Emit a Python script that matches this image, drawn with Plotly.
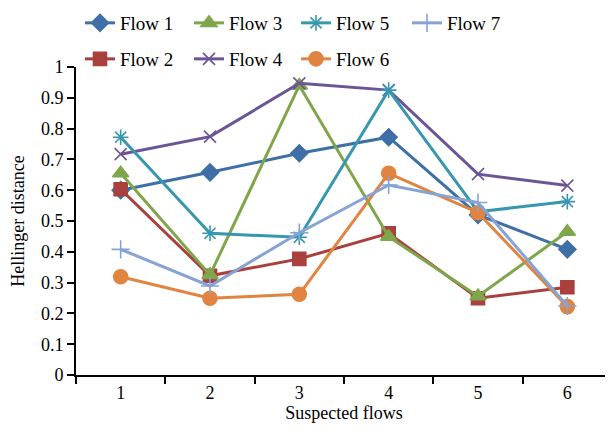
import plotly.graph_objects as go

categories = ["1", "2", "3", "4", "5", "6"]
flow1 = [0.60, 0.658, 0.72, 0.772, 0.52, 0.408]
flow2 = [0.603, 0.322, 0.377, 0.46, 0.249, 0.285]
flow3 = [0.655, 0.325, 0.94, 0.449, 0.256, 0.465]
flow4 = [0.717, 0.774, 0.947, 0.925, 0.652, 0.615]
flow5 = [0.772, 0.46, 0.447, 0.925, 0.53, 0.563]
flow6 = [0.319, 0.249, 0.262, 0.655, 0.527, 0.222]
flow7 = [0.408, 0.289, 0.462, 0.617, 0.56, 0.224]
yticks = [0, 0.1, 0.2, 0.3, 0.4, 0.5, 0.6, 0.7, 0.8, 0.9, 1]
ytick_labels = ["0", "0.1", "0.2", "0.3", "0.4", "0.5", "0.6", "0.7", "0.8", "0.9", "1"]

FONT = "Liberation Serif"
W, H = 605, 422
# (name, values, colour, symbol, size, legend column x (px), legend row y (px))
series = [
    ("Flow 1", flow1, "#3E6FA6", "diamond", 13, 72, 15),
    ("Flow 2", flow2, "#A9403D", "square", 13, 72, 51),
    ("Flow 3", flow3, "#7FA64B", "triangle-up", 14, 181, 15),
    ("Flow 4", flow4, "#6B5597", "x-thin-open", 12, 181, 51),
    ("Flow 5", flow5, "#3797AE", "asterisk-open", 13, 288, 15),
    ("Flow 6", flow6, "#E0843F", "circle", 14, 288, 51),
    ("Flow 7", flow7, "#87A3D3", "cross-thin-open", 13, 399, 15),
]

fig = go.Figure()
legends = {}
for i, (name, vals, color, sym, size, lx, ly) in enumerate(series):
    key = "legend" if i == 0 else f"legend{i + 1}"
    fig.add_trace(go.Scatter(
        x=categories, y=vals, name=name, mode="lines+markers",
        line=dict(color=color, width=3),
        marker=dict(symbol=sym, size=size, color=color, line=dict(color=color, width=1.6)),
        legend=key,
    ))
    legends[key] = dict(
        orientation="h", xref="container", yref="container",
        x=lx / W, y=1 - ly / H, xanchor="left", yanchor="middle",
        font=dict(family=FONT, size=19, color="black"),
        bgcolor="rgba(0,0,0,0)",
    )

fig.update_layout(
    width=W, height=H,
    margin=dict(l=68, r=1, t=59, b=55, autoexpand=False),
    paper_bgcolor="white", plot_bgcolor="white",
    font=dict(family=FONT, size=18, color="black"),
    showlegend=True,
    xaxis=dict(type="category", tickson="boundaries", ticks="outside", ticklen=7,
               tickcolor="black", tickwidth=1.5, showline=True, linecolor="black", linewidth=2,
               showgrid=False, zeroline=False, range=[-0.5, 5.5], automargin=False,
               title=dict(text="Suspected flows", font=dict(family=FONT, size=18), standoff=1),
               tickfont=dict(family=FONT, size=18)),
    yaxis=dict(range=[0, 1], tickvals=yticks, ticktext=ytick_labels, ticks="outside", ticklen=7,
               tickcolor="black", tickwidth=1.5, showline=True, linecolor="black", linewidth=2,
               showgrid=False, zeroline=False, automargin=False,
               title=dict(text="Hellinger distance", font=dict(family=FONT, size=18), standoff=14),
               tickfont=dict(family=FONT, size=18)),
    **legends,
)

fig.write_html("out.html")
